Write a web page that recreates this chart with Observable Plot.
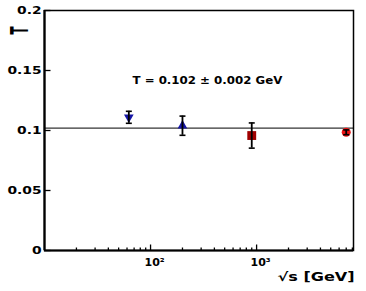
<!DOCTYPE html>
<html><head><meta charset="utf-8">
<script src="https://cdn.jsdelivr.net/npm/d3@7"></script>
<script src="https://cdn.jsdelivr.net/npm/@observablehq/plot@0.6"></script>
<style>body{margin:0;background:#fff}</style>
</head><body><div id="chart"></div>
<script>
// Data
const energies = [62.4, 200, 900, 7000];          // sqrt(s) [GeV]
const tValues  = [0.111, 0.104, 0.0958, 0.0985];  // T [GeV]
const tErrors  = [0.005, 0.008, 0.0105, 0.002];
const shapes   = ["down", "up", "square", "circle"];
const colors   = ["#1616a6", "#1616a6", "#a00000", "#ee1414"];
const fitValue = 0.102;
const fitText  = "T = 0.102 \u00b1 0.002 GeV";
const yTicks = [0, 0.05, 0.1, 0.15, 0.2];
const xMajorTicks = [100, 1000];
const xMinorTicks = [20,30,40,50,60,70,80,90,200,300,400,500,600,700,800,900,2000,3000,4000,5000,6000,7000,8000];
const xLabel = "\u221As [GeV]";
const yLabel = "T";

const pts = energies.map((e, i) => ({e, t: tValues[i], err: tErrors[i], shape: shapes[i], color: colors[i]}));

const capSymbol = {draw(ctx, size){const r = Math.sqrt(size/Math.PI); ctx.moveTo(-r,0); ctx.lineTo(r,0);}};
const tickRight = {draw(ctx, size){const l = Math.sqrt(size/Math.PI); ctx.moveTo(0,0); ctx.lineTo(l,0);}};
const tickUp = {draw(ctx, size){const l = Math.sqrt(size/Math.PI); ctx.moveTo(0,0); ctx.lineTo(0,-l);}};
const sup = "\u2070\u00b9\u00b2\u00b3\u2074\u2075\u2076\u2077\u2078\u2079";

const chart = Plot.plot({
  width: 366, height: 291,
  marginLeft: 44, marginRight: 13, marginTop: 10, marginBottom: 41,
  x: {type: "log", domain: [10, 8200]},
  y: {domain: [0, 0.2]},
  style: {fontFamily: "DejaVu Sans", fontWeight: "bold", fontSize: "10px", background: "white", overflow: "visible", color: "black"},
  marks: [
    Plot.axisY({ticks: yTicks, tickSize: 0, tickPadding: 3, tickFormat: d => String(d), label: null, fontSize: 10}),
    Plot.axisX({ticks: xMajorTicks, tickSize: 0, tickPadding: 8, tickFormat: d => "10" + sup[Math.round(Math.log10(d))], label: null, dx: 4, fontSize: 11}),
    Plot.ruleY([fitValue], {stroke: "black", strokeWidth: 1}),
    Plot.dot(yTicks, {x: () => 10, y: d => d, symbol: tickRight, r: 6, stroke: "black", fill: "none", strokeWidth: 1.3}),
    Plot.dot(xMajorTicks, {x: d => d, y: () => 0, symbol: tickUp, r: 6, stroke: "black", fill: "none", strokeWidth: 1.3}),
    Plot.dot(xMinorTicks, {x: d => d, y: () => 0, symbol: tickUp, r: 3, stroke: "black", fill: "none", strokeWidth: 1.3}),
    Plot.frame({stroke: "black", strokeWidth: 1.5}),
    Plot.ruleX([10], {stroke: "black", strokeWidth: 2.2}),
    Plot.ruleY([0], {stroke: "black", strokeWidth: 2.2}),
    Plot.dot(pts.filter(d => d.shape === "down"), {x: "e", y: "t", symbol: "triangle", rotate: 180, r: 3.6, fill: "color", stroke: null}),
    Plot.dot(pts.filter(d => d.shape === "up"), {x: "e", y: "t", symbol: "triangle", r: 3.6, fill: "color", stroke: null}),
    Plot.dot(pts.filter(d => d.shape === "square"), {x: "e", y: "t", symbol: "square", r: 5, fill: "color", stroke: null}),
    Plot.dot(pts.filter(d => d.shape === "circle"), {x: "e", y: "t", symbol: "circle", r: 4.5, fill: "color", stroke: null}),
    Plot.ruleX(pts, {x: "e", y1: d => d.t - d.err, y2: d => d.t + d.err, stroke: "black", strokeWidth: 1.8}),
    Plot.dot(pts, {x: "e", y: d => d.t - d.err, symbol: capSymbol, r: 3, stroke: "black", fill: "none", strokeWidth: 1.6}),
    Plot.dot(pts, {x: "e", y: d => d.t + d.err, symbol: capSymbol, r: 3, stroke: "black", fill: "none", strokeWidth: 1.6}),
    Plot.text([fitText], {frameAnchor: "top-left", dx: 88, dy: 66, textAnchor: "start", fontSize: 10, className: "annot"}),
    Plot.text([xLabel], {frameAnchor: "bottom-right", dx: -76, dy: 30, textAnchor: "start", fontSize: 12, className: "xlabel"}),
    Plot.text([yLabel], {frameAnchor: "top-left", dx: -17, dy: 24, rotate: -90, textAnchor: "start", lineAnchor: "bottom", fontSize: 24, className: "ylabel"})
  ]
});
document.getElementById("chart").append(chart);
function stretch(sel, f, fixed) {
  chart.querySelectorAll(sel).forEach(t => {
    const w = t.getComputedTextLength();
    t.setAttribute("textLength", fixed ? fixed : w * f);
    t.setAttribute("lengthAdjust", "spacingAndGlyphs");
  });
}
stretch('g[aria-label="y-axis tick label"] text', 1.38);
stretch('.annot text, text.annot', 1.18);
stretch('.xlabel text, text.xlabel', 1.34);
stretch('.ylabel text, text.ylabel', 1, 8);
</script>
</body></html>
